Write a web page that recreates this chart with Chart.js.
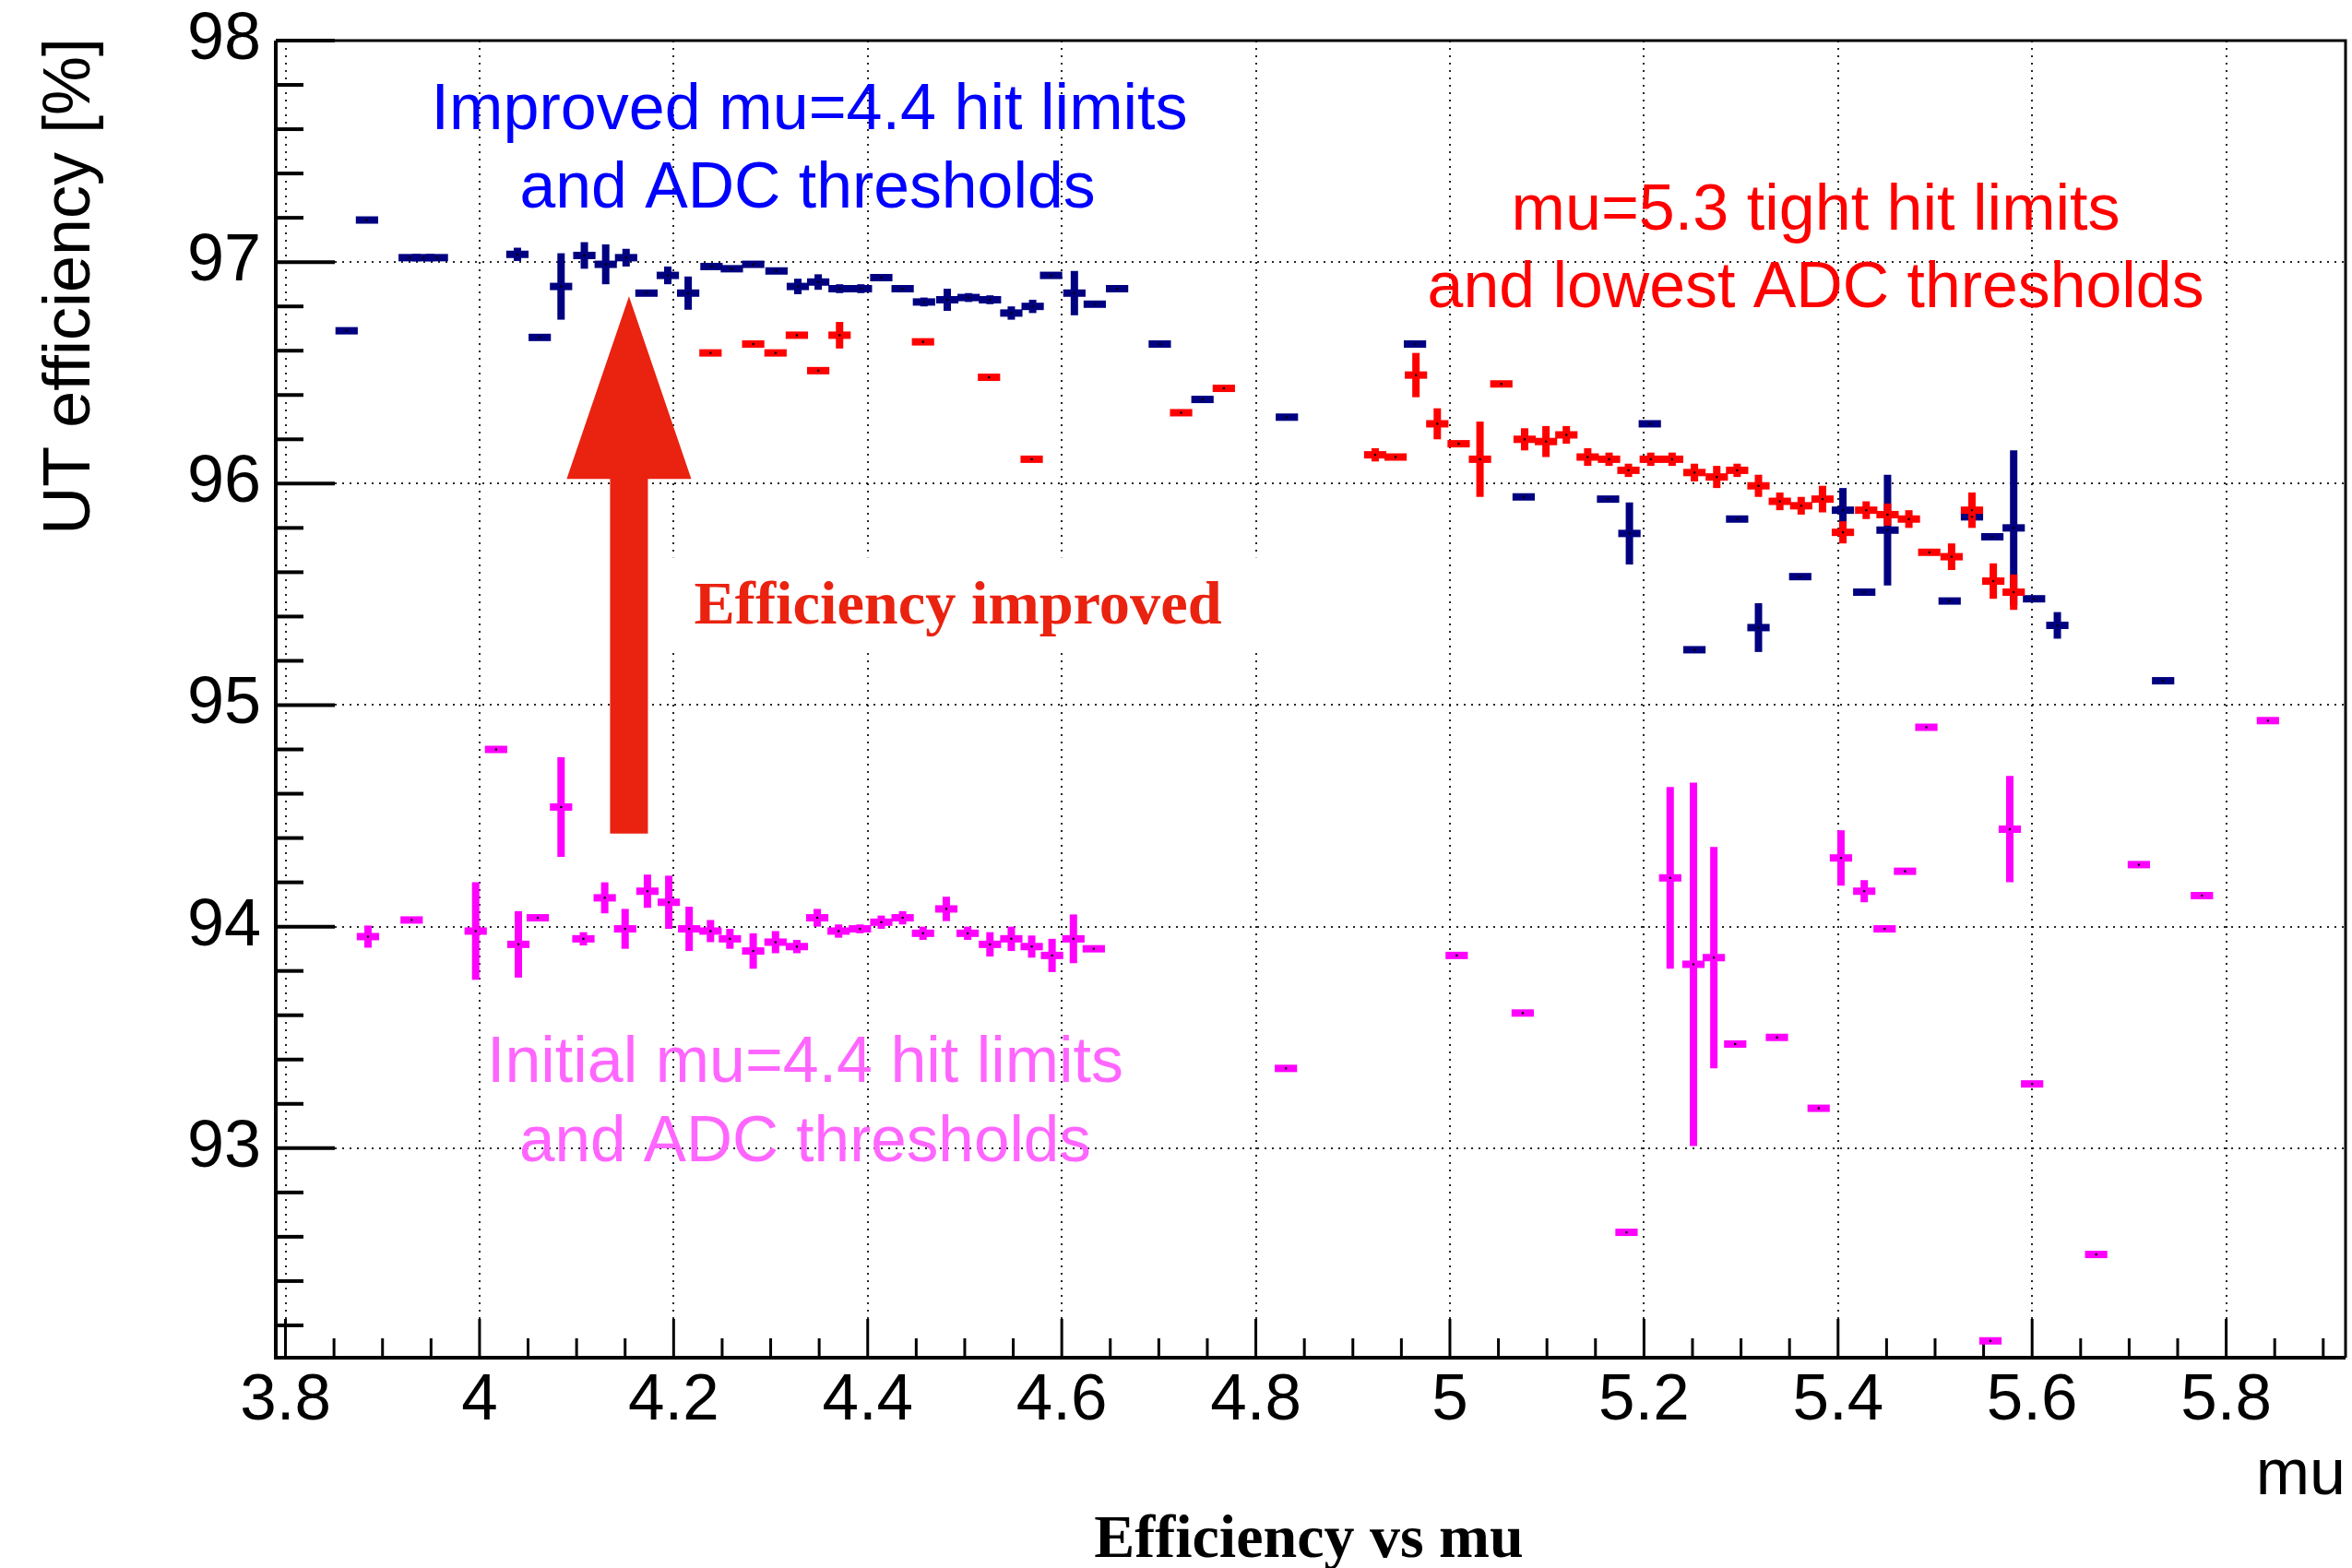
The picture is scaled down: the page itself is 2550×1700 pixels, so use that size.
<!DOCTYPE html>
<html>
<head>
<meta charset="utf-8">
<script src="https://cdn.jsdelivr.net/npm/chart.js@4.4.1/dist/chart.umd.min.js"></script>
<style>
  html, body { margin: 0; padding: 0; background: #ffffff; }
  canvas { display: block; }
</style>
</head>
<body>
<canvas id="chart" width="2550" height="1700" style="width:2550px;height:1700px"></canvas>
<script>
// ---------------- DATA ----------------
// Improved mu=4.4 hit limits and ADC thresholds (navy)
const improvedMu  = [3.863,3.884,3.928,3.942,3.956,4.039,4.062,4.084,4.108,4.130,4.151,4.172,4.194,4.215,4.239,4.260,4.282,4.306,4.328,4.349,4.371,4.393,4.414,4.436,4.458,4.482,4.504,4.526,4.548,4.570,4.589,4.613,4.634,4.657,4.701,4.745,4.832,4.964,5.076,5.163,5.185,5.206,5.252,5.296,5.318,5.361,5.405,5.427,5.451,5.515,5.538,5.559,5.581,5.602,5.626,5.735];
const improvedEff = [96.69,97.19,97.02,97.02,97.02,97.035,96.66,96.89,97.03,96.99,97.02,96.86,96.94,96.86,96.98,96.97,96.99,96.96,96.89,96.91,96.88,96.88,96.93,96.88,96.82,96.83,96.84,96.83,96.77,96.80,96.94,96.86,96.81,96.88,96.63,96.38,96.30,96.63,95.94,95.93,95.775,96.27,95.25,95.84,95.35,95.58,95.88,95.51,95.79,95.47,95.85,95.76,95.80,95.48,95.36,95.11];
const improvedErr = [0,0,0,0,0,0.03,0,0.15,0.06,0.09,0.04,0,0.04,0.075,0,0.01,0,0,0.035,0.035,0.02,0.02,0,0,0.02,0.05,0.02,0.02,0.03,0.03,0,0.1,0,0,0,0,0,0,0,0,0.14,0,0,0,0.11,0,0.1,0,0.25,0,0,0,0.35,0,0.06,0];

// mu=5.3 tight hit limits and lowest ADC thresholds (red)
const tightMu  = [4.238,4.282,4.305,4.327,4.349,4.371,4.457,4.525,4.569,4.723,4.767,4.923,4.944,4.965,4.987,5.009,5.031,5.053,5.077,5.099,5.120,5.142,5.164,5.184,5.207,5.229,5.252,5.275,5.296,5.318,5.340,5.362,5.384,5.405,5.429,5.451,5.473,5.494,5.517,5.538,5.560,5.581];
const tightEff = [96.59,96.63,96.59,96.67,96.51,96.67,96.64,96.48,96.11,96.32,96.43,96.13,96.12,96.49,96.27,96.18,96.11,96.45,96.20,96.19,96.22,96.12,96.11,96.06,96.11,96.11,96.05,96.03,96.06,95.99,95.92,95.90,95.93,95.78,95.88,95.86,95.84,95.69,95.67,95.88,95.56,95.51];
const tightErr = [0,0,0,0,0,0.06,0,0,0,0,0,0.03,0,0.1,0.07,0,0.17,0,0.05,0.07,0.04,0.04,0.03,0.03,0.03,0.03,0.04,0.05,0.03,0.05,0.04,0.04,0.06,0.05,0.04,0.05,0.04,0,0.06,0.08,0.08,0.08];

// Initial mu=4.4 hit limits and ADC thresholds (magenta)
const initialMu  = [3.885,3.930,3.996,4.017,4.040,4.060,4.084,4.107,4.129,4.150,4.173,4.195,4.216,4.238,4.258,4.282,4.305,4.327,4.348,4.370,4.392,4.414,4.436,4.457,4.481,4.503,4.526,4.548,4.569,4.590,4.612,4.633,4.831,5.007,5.075,5.182,5.227,5.251,5.272,5.294,5.337,5.380,5.403,5.427,5.448,5.469,5.491,5.557,5.577,5.600,5.666,5.710,5.775,5.843];
const initialEff = [93.955,94.03,93.98,94.80,93.92,94.04,94.54,93.945,94.13,93.99,94.16,94.11,93.99,93.98,93.945,93.89,93.93,93.91,94.04,93.98,93.99,94.02,94.04,93.97,94.08,93.97,93.92,93.945,93.91,93.87,93.945,93.90,93.36,93.87,93.61,92.62,94.22,93.83,93.86,93.47,93.50,93.18,94.31,94.16,93.99,94.25,94.90,92.13,94.44,93.29,92.52,94.28,94.14,94.93];
const initialErr = [0.05,0,0.22,0,0.15,0,0.225,0.03,0.07,0.09,0.075,0.12,0.10,0.05,0.045,0.08,0.05,0.03,0.04,0.03,0.02,0.03,0.03,0.03,0.055,0.03,0.055,0.055,0.05,0.075,0.11,0,0,0,0,0,0.41,0.82,0.5,0,0,0,0.125,0.05,0,0,0,0,0.24,0,0,0,0,0];

// Tick labels
const xTickLabels = [3.8,4,4.2,4.4,4.6,4.8,5,5.2,5.4,5.6,5.8];
const yTickLabels = [93,94,95,96,97,98];

// Texts
const yTitle = 'UT efficiency [%]';
const xTitle = 'mu';
const bottomTitle = 'Efficiency vs mu';
const improvedText = ['Improved mu=4.4 hit limits', 'and ADC thresholds'];
const tightText = ['mu=5.3 tight hit limits', 'and lowest ADC thresholds'];
const initialText = ['Initial mu=4.4 hit limits', 'and ADC thresholds'];
const arrowText = 'Efficiency improved';

// ---------------- STYLE / LAYOUT ----------------
const X_MIN = 3.79, X_MAX = 5.923, Y_MIN = 92.054, Y_MAX = 98;
const X_HALF = 0.0115;         // horizontal half-width of each marker bar (mu)
const BAR_W = 8;               // stroke thickness of error bars (px)
const SANS = '"Liberation Sans", Arial, Helvetica, sans-serif';
const SERIF = '"Liberation Serif", "Times New Roman", serif';

function toPoints(xs, ys) { return xs.map((v, i) => ({ x: v, y: ys[i] })); }

function drawFitText(ctx, text, x, y, font, color, targetW, align) {
  ctx.save();
  ctx.font = font;
  const w = ctx.measureText(text).width;
  const s = targetW ? targetW / w : 1;
  ctx.translate(x, y);
  ctx.scale(s, 1);
  ctx.textAlign = align || 'center';
  ctx.textBaseline = 'alphabetic';
  ctx.fillStyle = color;
  ctx.fillText(text, 0, 0);
  ctx.restore();
}

const rootPlugin = {
  id: 'rootStyle',
  beforeDraw(chart) {
    const ctx = chart.ctx;
    ctx.save();
    ctx.fillStyle = '#ffffff';
    ctx.fillRect(0, 0, chart.width, chart.height);
    ctx.restore();
  },
  beforeDatasetsDraw(chart) {
    const { ctx, chartArea: a, scales: { x, y } } = chart;
    ctx.save();
    // white box behind the "Efficiency improved" label
    ctx.fillStyle = '#ffffff';
    const bx0 = x.getPixelForValue(4.185), bx1 = x.getPixelForValue(4.803);
    const by0 = y.getPixelForValue(95.667), by1 = y.getPixelForValue(95.242);
    ctx.fillRect(bx0, by0, bx1 - bx0, by1 - by0);

    // inside tick marks
    ctx.strokeStyle = '#000';
    ctx.lineCap = 'butt';
    ctx.lineWidth = 3;
    for (let k = 0; k * 0.05 + 3.8 <= X_MAX + 1e-9; k++) {
      const v = 3.8 + k * 0.05;
      const px = x.getPixelForValue(v);
      const len = (k % 4 === 0) ? 42 : 21;
      ctx.beginPath(); ctx.moveTo(px, a.bottom); ctx.lineTo(px, a.bottom - len); ctx.stroke();
    }
    ctx.lineWidth = 4;
    for (let k = 0; 92.2 + k * 0.2 <= Y_MAX + 1e-9; k++) {
      const v = 92.2 + k * 0.2;
      const py = y.getPixelForValue(v);
      const len = (Math.abs(v - Math.round(v)) < 1e-6) ? 64 : 30;
      ctx.beginPath(); ctx.moveTo(a.left, py); ctx.lineTo(a.left + len, py); ctx.stroke();
    }
    // frame
    ctx.lineWidth = 4;
    ctx.beginPath(); ctx.moveTo(a.left, a.top); ctx.lineTo(a.left, a.bottom); ctx.lineTo(a.right, a.bottom); ctx.stroke();
    ctx.lineWidth = 3;
    ctx.beginPath(); ctx.moveTo(a.left, a.top); ctx.lineTo(a.right, a.top); ctx.lineTo(a.right, a.bottom); ctx.stroke();

    // error bars, drawn from the data through the chart scales
    chart.data.datasets.forEach(ds => {
      ctx.strokeStyle = ds.barColor;
      ctx.lineWidth = BAR_W;
      ctx.lineCap = 'butt';
      ds.data.forEach((p, i) => {
        const px0 = x.getPixelForValue(p.x - X_HALF), px1 = x.getPixelForValue(p.x + X_HALF);
        const pc = x.getPixelForValue(p.x), py = y.getPixelForValue(p.y);
        ctx.beginPath(); ctx.moveTo(px0, py); ctx.lineTo(px1, py); ctx.stroke();
        const e = ds.errors[i];
        if (e > 0) {
          const pt = y.getPixelForValue(p.y + e), pb = y.getPixelForValue(p.y - e);
          ctx.beginPath(); ctx.moveTo(pc, pt); ctx.lineTo(pc, pb); ctx.stroke();
        }
      });
    });
    ctx.restore();
  },
  afterDatasetsDraw(chart) {
    const { ctx, scales: { x, y } } = chart;
    ctx.save();
    // big red arrow
    const cx = 4.154;
    const tip = y.getPixelForValue(96.846), base = y.getPixelForValue(96.021), bottom = y.getPixelForValue(94.42);
    const hL = x.getPixelForValue(cx - 0.0642), hR = x.getPixelForValue(cx + 0.0642);
    const sL = x.getPixelForValue(cx - 0.0195), sR = x.getPixelForValue(cx + 0.0195);
    const pc = x.getPixelForValue(cx);
    ctx.fillStyle = '#ea2210';
    ctx.beginPath();
    ctx.moveTo(pc, tip); ctx.lineTo(hR, base); ctx.lineTo(sR, base); ctx.lineTo(sR, bottom);
    ctx.lineTo(sL, bottom); ctx.lineTo(sL, base); ctx.lineTo(hL, base); ctx.closePath(); ctx.fill();

    // annotations
    const F = '70px ' + SANS;
    drawFitText(ctx, improvedText[0], x.getPixelForValue(4.340), y.getPixelForValue(97.60), F, '#0000ff', 820);
    drawFitText(ctx, improvedText[1], x.getPixelForValue(4.338), y.getPixelForValue(97.246), F, '#0000ff', 624);
    drawFitText(ctx, tightText[0], x.getPixelForValue(5.377), y.getPixelForValue(97.146), F, '#ff0000', 660);
    drawFitText(ctx, tightText[1], x.getPixelForValue(5.377), y.getPixelForValue(96.796), F, '#ff0000', 842);
    drawFitText(ctx, initialText[0], x.getPixelForValue(4.3356), y.getPixelForValue(93.30), F, '#ff66ff', 690);
    drawFitText(ctx, initialText[1], x.getPixelForValue(4.3356), y.getPixelForValue(92.94), F, '#ff66ff', 620);
    drawFitText(ctx, arrowText, x.getPixelForValue(4.493), y.getPixelForValue(95.37), 'bold 66px ' + SERIF, '#ea2210', 572);
    ctx.restore();
  },
  afterDraw(chart) {
    const ctx = chart.ctx;
    ctx.save();
    ctx.translate(97, 41);
    ctx.rotate(-Math.PI / 2);
    ctx.font = '72px ' + SANS;
    ctx.fillStyle = '#000';
    ctx.textAlign = 'right';
    ctx.textBaseline = 'alphabetic';
    ctx.fillText(yTitle, 0, 0);
    ctx.restore();
    drawFitText(ctx, xTitle, 2543, 1620, '70px ' + SANS, '#000', null, 'right');
    drawFitText(ctx, bottomTitle, 1419, 1688, 'bold 66px ' + SERIF, '#000', null, 'center');
  }
};

const dotStyle = { pointRadius: 1.6, pointStyle: 'rect', pointBackgroundColor: '#000', pointBorderWidth: 0, showLine: false };

new Chart(document.getElementById('chart').getContext('2d'), {
  type: 'scatter',
  data: {
    datasets: [
      Object.assign({ label: initialText.join(' '), data: toPoints(initialMu, initialEff), errors: initialErr, barColor: '#ff00ff' }, dotStyle),
      Object.assign({ label: improvedText.join(' '), data: toPoints(improvedMu, improvedEff), errors: improvedErr, barColor: '#000080' }, dotStyle),
      Object.assign({ label: tightText.join(' '), data: toPoints(tightMu, tightEff), errors: tightErr, barColor: '#ff0000' }, dotStyle)
    ]
  },
  options: {
    responsive: false,
    devicePixelRatio: 1,
    animation: false,
    layout: { padding: { left: 0, top: 44, right: 7, bottom: 0 } },
    plugins: { legend: { display: false }, tooltip: { enabled: false } },
    scales: {
      x: {
        type: 'linear', position: 'bottom', min: X_MIN, max: X_MAX,
        afterBuildTicks: s => { s.ticks = xTickLabels.map(v => ({ value: v })); },
        afterFit: s => { s.height = 228; s.paddingLeft = 0; s.paddingRight = 0; },
        ticks: { autoSkip: false, maxRotation: 0, minRotation: 0, padding: 5, color: '#000',
                 font: { family: SANS, size: 71 }, callback: v => String(v) },
        grid: { color: 'rgba(0,0,0,0.85)', lineWidth: 2, drawTicks: false },
        border: { display: false, dash: [2, 6] }
      },
      y: {
        type: 'linear', position: 'left', min: Y_MIN, max: Y_MAX,
        afterBuildTicks: s => { s.ticks = yTickLabels.map(v => ({ value: v })); },
        afterFit: s => { s.width = 299; s.paddingTop = 0; s.paddingBottom = 0; },
        ticks: { autoSkip: false, padding: 16, color: '#000',
                 font: { family: SANS, size: 72 }, callback: v => String(v) },
        grid: { color: 'rgba(0,0,0,0.85)', lineWidth: 2, drawTicks: false },
        border: { display: false, dash: [2, 6] }
      }
    }
  },
  plugins: [rootPlugin]
});
</script>
</body>
</html>
